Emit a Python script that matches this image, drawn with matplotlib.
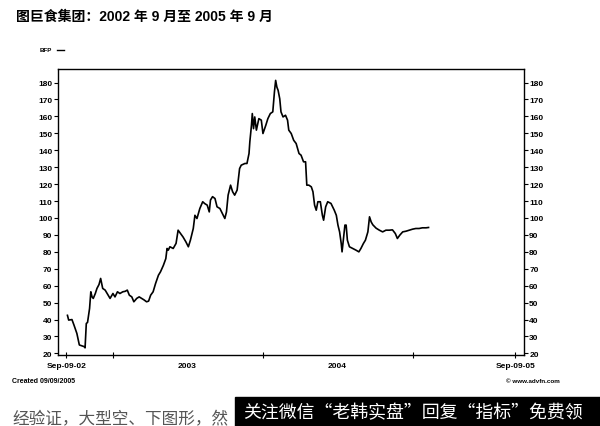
import matplotlib
matplotlib.use("Agg")
import matplotlib.pyplot as plt
import pandas as pd

plt.rcParams['font.family'] = ['Liberation Sans', 'Noto Sans CJK SC', 'DejaVu Sans']

TITLE = "图巨食集团：2002 年 9 月至 2005 年 9 月"
START = "2002-09-09"

# trading days after START, and BFP price
days = [3, 6, 14, 19, 26, 32, 38, 44, 46, 49, 52, 57, 60, 63, 66, 71, 75, 80, 84, 89,
        95, 100, 107, 114, 119, 125, 131, 138, 144, 149, 154, 160, 165, 172, 178, 184, 190, 196, 201, 206,
        212, 218, 225, 230, 237, 243, 246, 249, 253, 261, 268, 273, 279, 285, 292, 298, 303, 310, 314, 319,
        326, 333, 338, 344, 349, 352, 357, 363, 368, 375, 381, 387, 391, 395, 401, 406, 411, 417, 423, 427,
        436, 441, 446, 448, 452, 454, 457, 460, 464, 470, 476, 480, 487, 492, 498, 504, 508, 511, 514, 517,
        521, 524, 529, 535, 540, 543, 549, 555, 561, 568, 573, 579, 584, 587, 592, 598, 602, 606, 610, 614,
        620, 625, 628, 633, 638, 646, 654, 659, 663, 667, 671, 673, 676, 680, 683, 686, 691, 699, 707, 714,
        719, 725, 730, 736, 740, 744, 748, 756, 764, 772, 780, 788, 796, 803, 808, 814, 821, 829, 837, 845,
        853, 861, 869, 878, 884]
price = [42.5, 39.7, 40, 36.7, 31.8, 25, 24.5, 24, 23.3, 37.7, 38.3, 46.6, 56.4, 53.4, 52.5, 55.4, 58.4, 60.7, 64.3, 58.4,
         57.4, 55.4, 52.5, 55.4, 53.4, 56.4, 55.4, 56.4, 56.7, 57.4, 54.4, 53.4, 50.5, 52.5, 53.4, 52.5, 51.6, 50.5, 50.9, 54.4,
         56.4, 61.3, 66.2, 68.2, 72, 76, 82, 81, 83, 82, 85, 92.8, 90.8, 88.8, 85.9, 83, 86.9, 93.8, 101.6, 99.7,
         105.6, 109.6, 108.5, 107.6, 103.6, 110.6, 112.6, 111.5, 106.6, 105.6, 102.6, 99.7, 103.6, 113.5, 119.4, 115.5, 113.5, 116.5, 129.2, 131.2,
         132.2, 132.2, 138.1, 145, 154.8, 161.7, 152.8, 159.7, 151.9, 158.7, 157.8, 149.9, 154.8, 158.7, 161.7, 162.7, 174.4, 181.3, 177.3, 175.4,
         170.4, 162.7, 159.7, 160.7, 157.8, 151.9, 149.9, 145.9, 144, 138.1, 137.1, 133.2, 133.2, 119.4, 119.4, 118.4, 115.5, 107.6, 104.6, 109.6,
         109.6, 101.6, 98.7, 106.6, 109.6, 108.6, 104.6, 101.6, 95.8, 91.8, 84.9, 80, 86.9, 95.8, 95.8, 86.9, 83, 82, 81, 80,
         82, 84.9, 86.9, 91.8, 100.7, 97.7, 96, 94, 92.8, 91.8, 92.8, 92.8, 93, 90.8, 87.9, 89.9, 91.8, 92.2, 92.8, 93.4,
         93.8, 93.8, 94.2, 94.2, 94.4]

yticks = list(range(20, 190, 10))
xlabels = ["Sep-09-02", "2003", "2004", "Sep-09-05"]
xlabel_dates = ["2002-09-09", "2003-07-02", "2004-07-01", "2005-09-09"]
year_marks = ["2003-01-01", "2004-01-01", "2005-01-01"]

dates = pd.Timestamp(START) + pd.to_timedelta(days, unit="D")

fig = plt.figure(figsize=(6, 4.27), dpi=100)
ax = fig.add_axes([0.0967, 0.166, 0.776, 0.670])
ax.plot(dates, price, color="black", lw=1.2)

ax.set_xlim(pd.Timestamp("2002-08-20"), pd.Timestamp("2005-09-29"))
ax.set_ylim(19, 188)

ax.set_yticks(yticks)
ax.set_yticklabels([str(v) for v in yticks])
ax.tick_params(axis="y", which="both", direction="out", length=3, width=0.8,
               labelsize=6, left=True, right=True, labelleft=True, labelright=True, pad=1)
for lab in ax.get_yticklabels():
    lab.set_fontweight("bold")

ax.set_xticks(pd.to_datetime(xlabel_dates))
ax.set_xticklabels(xlabels)
ax.set_xticks(pd.to_datetime(year_marks), minor=True)
ax.tick_params(axis="x", which="major", length=4, direction="inout", labelsize=6, pad=3)
ax.tick_params(axis="x", which="minor", direction="inout", length=5, width=0.8)
for lab in ax.get_xticklabels():
    lab.set_fontweight("bold")
# the year labels sit between the year marks, without a tick of their own
for t in ax.xaxis.get_major_ticks()[1:3]:
    t.tick1line.set_visible(False)

for sp in ax.spines.values():
    sp.set_linewidth(1.0)
    sp.set_color("black")

fig.text(16 / 600, 1 - 17 / 427, TITLE, fontsize=10, fontweight="bold", va="center", ha="left")
fig.text(40 / 600, 1 - 50 / 427, "BFP", fontsize=4.5, fontweight="bold", va="center", ha="left")
fig.add_artist(plt.Line2D([57 / 600, 64 / 600], [1 - 51 / 427, 1 - 51 / 427], color="black", lw=1))

fig.text(12 / 600, 1 - 382 / 427, "Created 09/09/2005", fontsize=5, fontweight="bold", va="center")
fig.text(560 / 600, 1 - 382 / 427, "© www.advfn.com", fontsize=4.5, fontweight="bold", va="center", ha="right")

fig.text(12 / 600, 1 - 411 / 427, "经验证，大型空、下图形，然", fontsize=12, color="#555555",
         va="top", ha="left", family=["Noto Sans CJK SC", "DejaVu Sans"])
fig.patches.append(plt.Rectangle((235 / 600, 0), 365 / 600, 29 / 427, transform=fig.transFigure,
                                 color="black", zorder=5))
fig.text(243 / 600, 1 - 413 / 427, "关注微信“老韩实盘”回复“指标”免费领", fontsize=12.9, color="white",
         va="center", ha="left", zorder=6, family=["Noto Sans CJK SC", "DejaVu Sans"])

fig.savefig("out.png", dpi=100)
